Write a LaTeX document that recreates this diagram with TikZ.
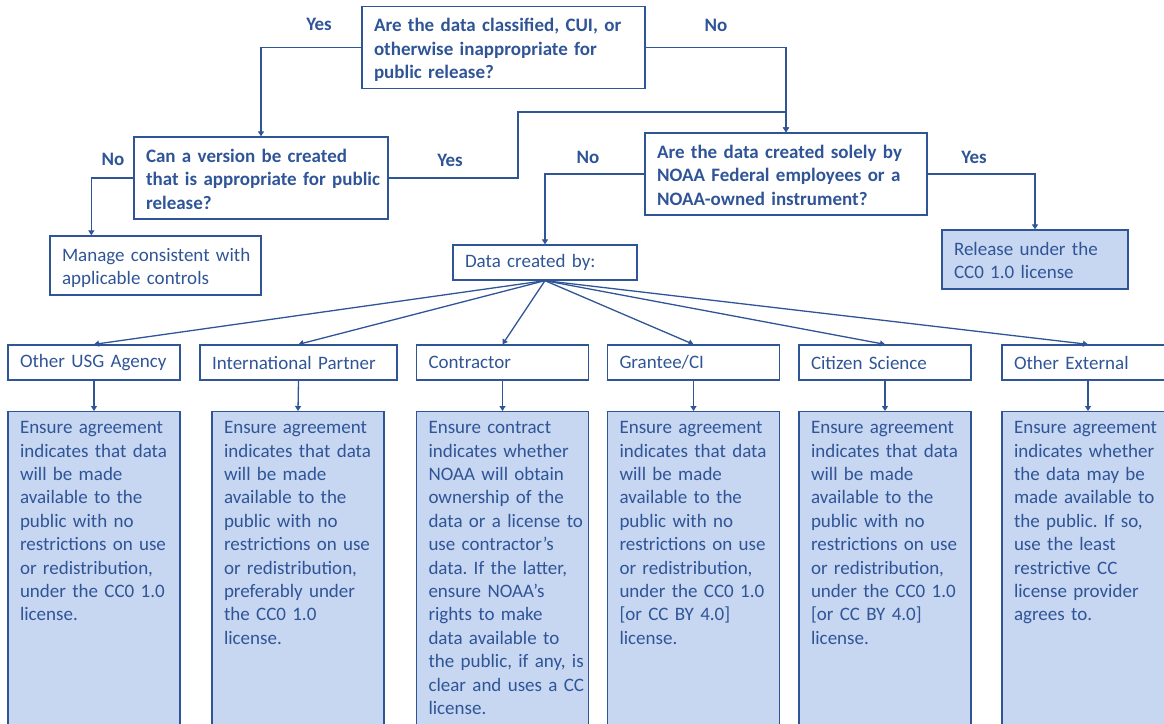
\documentclass[tikz,border=0pt]{standalone}
\usepackage{fontspec}
\setmainfont{Carlito}
\usepackage{tikz}
\usetikzlibrary{positioning, arrows.meta, calc}
\definecolor{noaablue}{RGB}{47,85,151}
\definecolor{noaafill}{RGB}{199,214,241}
\newcommand{\rows}[1]{\begin{tabular}[t]{@{}l@{}}\rule{0pt}{22.5pt}#1\end{tabular}}
\frenchspacing

\begin{document}
\begin{tikzpicture}[x=1pt, y=-1pt,
    every node/.style={text=noaablue, font=\fontsize{19}{23.4}\selectfont},
    box/.style={draw=noaablue, line width=1.3pt, inner xsep=12pt, inner ysep=0pt, align=left},
    question/.style={box, font=\fontsize{19}{23.4}\selectfont\bfseries, minimum height=82pt},
    answer/.style={font=\fontsize{19}{23.4}\selectfont\bfseries},
    group/.style={box, minimum height=35pt, text width=148pt},
    detail/.style={box, fill=noaafill, anchor=north, text width=148pt, inner ysep=4pt, text height=18pt, text depth=330pt},
    link/.style={draw=noaablue, line width=1.3pt, -{Triangle[length=5pt, width=6pt]}}]
  \useasboundingbox (0,0) rectangle (1164,723);
  \clip (0,0) rectangle (1164,723);

  % questions
  \node[question, text width=259pt] (classified) at (503.5, 47.5) {\rows{Are the data classified, CUI, or\\ otherwise inappropriate for\\ public release?}};
  \node[question, text width=230pt] (version) at (261, 178) {\rows{Can a version be created\\ that is appropriate for public\\ release?}};
  \node[question, text width=258pt] (solely) at (786, 174) {\rows{Are the data created solely by\\ NOAA Federal employees or a\\ NOAA-owned instrument?}};

  \node[box, text width=187pt, minimum height=59pt] (manage) at (155.5, 265.5) {\rows{Manage consistent with\\ applicable controls}};
  \node[box, fill=noaafill, text width=162pt, minimum height=59pt] (release) at (1035, 259.5) {\rows{Release under the\\ CC0 1.0 license}};
  \node[box, text width=160pt, minimum height=35pt] (createdby) at (545, 262.5) {Data created by:};

  % answers
  \node[answer] (yesclass) at (319, 24) {Yes};
  \node[answer] (noclass) at (716, 25) {No};
  \node[answer] (noversion) at (113, 159) {No};
  \node[answer] (yesversion) at (450, 160) {Yes};
  \node[answer] (nosolely) at (588, 157) {No};
  \node[answer] (yessolely) at (974, 157) {Yes};

  % who created the data
  \node[group] (usg) at (94, 362.5) {Other USG Agency};
  \node[group, text width=173pt] (intl) at (298.5, 362.5) {International Partner};
  \node[group] (contractor) at (502.5, 362.5) {Contractor};
  \node[group] (grantee) at (693.5, 362.5) {Grantee/CI};
  \node[group] (citizen) at (885, 362.5) {Citizen Science};
  \node[group] (external) at (1088, 362.5) {Other External};

  \node[detail] (usgnote) at (94, 411) {\rows{Ensure agreement\\ indicates that data\\ will be made\\ available to the\\ public with no\\ restrictions on use\\ or redistribution,\\ under the CC0 1.0\\ license.}};
  \node[detail] (intlnote) at (298, 411) {\rows{Ensure agreement\\ indicates that data\\ will be made\\ available to the\\ public with no\\ restrictions on use\\ or redistribution,\\ preferably under\\ the CC0 1.0\\ license.}};
  \node[detail] (contractornote) at (502.5, 411) {\rows{Ensure contract\\ indicates whether\\ NOAA will obtain\\ ownership of the\\ data or a license to\\ use contractor’s\\ data. If the latter,\\ ensure NOAA’s\\ rights to make\\ data available to\\ the public, if any, is\\ clear and uses a CC\\ license.}};
  \node[detail] (granteenote) at (693.5, 411) {\rows{Ensure agreement\\ indicates that data\\ will be made\\ available to the\\ public with no\\ restrictions on use\\ or redistribution,\\ under the CC0 1.0\\ {[or CC BY 4.0]}\\ license.}};
  \node[detail] (citizennote) at (885, 411) {\rows{Ensure agreement\\ indicates that data\\ will be made\\ available to the\\ public with no\\ restrictions on use\\ or redistribution,\\ under the CC0 1.0\\ {[or CC BY 4.0]}\\ license.}};
  \node[detail] (externalnote) at (1088, 411) {\rows{Ensure agreement\\ indicates whether\\ the data may be\\ made available to\\ the public. If so,\\ use the least\\ restrictive CC\\ license provider\\ agrees to.}};

  % connectors
  \coordinate (bend) at (518, 112);
  \coordinate (managein) at ([xshift=42pt]manage.north west);
  \draw[link] (classified.west) -| (version.north);
  \draw[link] (classified.east) -| (solely.north);
  \draw[link] (version.east) -| (bend) -| (solely.north);
  \draw[link] (version.west) -| (managein);
  \draw[link] (solely.west) -| (createdby.north);
  \draw[link] (solely.east) -| (release.north);
  \foreach \g in {usg, intl, contractor, grantee, citizen, external}
    \draw[link] (createdby.south) -- (\g.north);
  \foreach \g in {usg, intl, contractor, grantee, citizen, external}
    \draw[link] (\g.south) -- (\g note.north);
\end{tikzpicture}
\end{document}
